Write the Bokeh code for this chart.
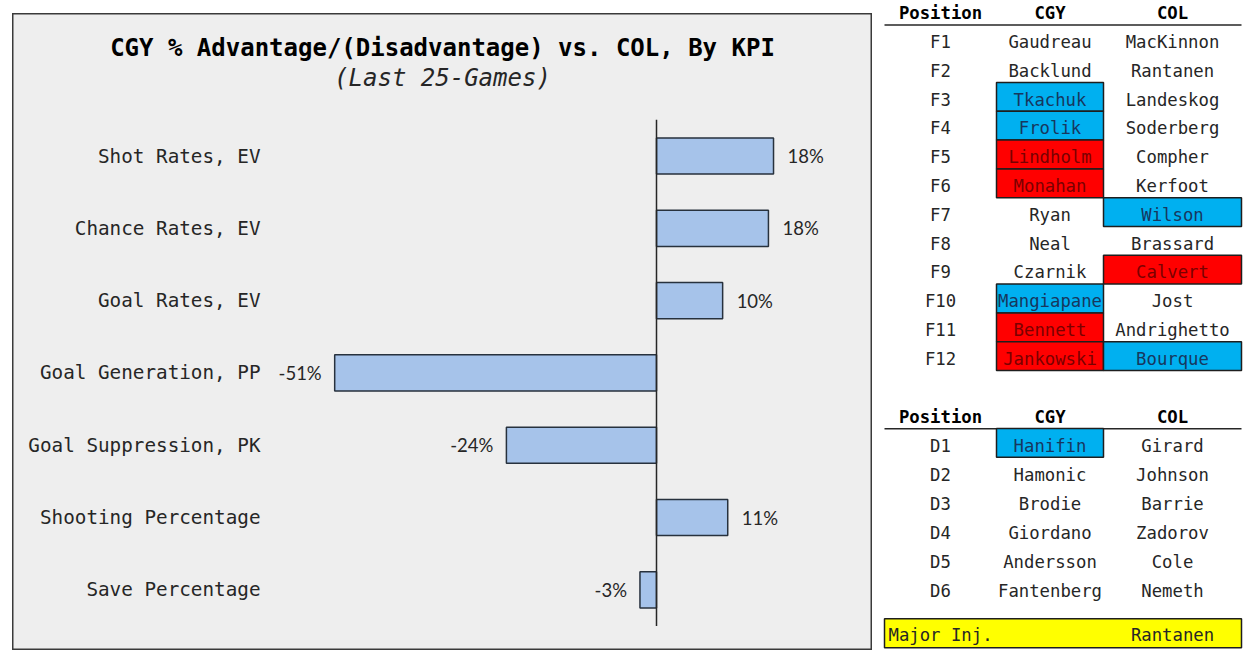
from bokeh.plotting import figure
from bokeh.layouts import row
from bokeh.models import Range1d, ColumnDataSource
from bokeh.core.properties import value
from bokeh.embed import file_html
from bokeh.resources import INLINE

# ---------------- data ----------------
title_text = "CGY % Advantage/(Disadvantage) vs. COL, By KPI"
subtitle_text = "(Last 25-Games)"
kpis = ["Shot Rates, EV", "Chance Rates, EV", "Goal Rates, EV",
        "Goal Generation, PP", "Goal Suppression, PK",
        "Shooting Percentage", "Save Percentage"]
advantage = [18.4, 17.6, 10.4, -50.6, -23.6, 11.2, -2.6]

table_header = ["Position", "CGY", "COL"]
positions_f = ["F1", "F2", "F3", "F4", "F5", "F6", "F7", "F8", "F9", "F10", "F11", "F12"]
cgy_f = ["Gaudreau", "Backlund", "Tkachuk", "Frolik", "Lindholm", "Monahan",
         "Ryan", "Neal", "Czarnik", "Mangiapane", "Bennett", "Jankowski"]
col_f = ["MacKinnon", "Rantanen", "Landeskog", "Soderberg", "Compher", "Kerfoot",
         "Wilson", "Brassard", "Calvert", "Jost", "Andrighetto", "Bourque"]
cgy_f_flag = ["", "", "good", "good", "bad", "bad", "", "", "", "good", "bad", "bad"]
col_f_flag = ["", "", "", "", "", "", "good", "", "bad", "", "", "good"]

positions_d = ["D1", "D2", "D3", "D4", "D5", "D6"]
cgy_d = ["Hanifin", "Hamonic", "Brodie", "Giordano", "Andersson", "Fantenberg"]
col_d = ["Girard", "Johnson", "Barrie", "Zadorov", "Cole", "Nemeth"]
cgy_d_flag = ["good", "", "", "", "", ""]
col_d_flag = ["", "", "", "", "", ""]

injury_label = "Major Inj."
injury_col = "Rantanen"

# ---------------- styles ----------------
MONO = value("DejaVu Sans Mono")
SANS = value("Lato")
TXT = "#262626"
FILL = {"good": "#00b0f0", "bad": "#ff0000"}
TFILL = {"good": "#17375e", "bad": "#7a0000", "": TXT}

# ---------------- left chart ----------------
W1, H1 = 860, 637
PX = 6.36          # pixels per percent
ZERO = 644         # zero line position in px from left edge
STEP = 72.3        # px per category
FIRST = 142.5      # px from top to first category centre

p = figure(width=W1, height=H1, output_backend="svg", toolbar_location=None,
           x_range=Range1d(-ZERO / PX, (W1 - ZERO) / PX),
           y_range=Range1d((H1 - FIRST) / STEP, -FIRST / STEP),
           x_axis_type=None, y_axis_type=None, min_border=0,
           background_fill_color="#eeeeee", border_fill_color="#eeeeee",
           outline_line_color="#3a3a3a", outline_line_width=2)
p.xgrid.visible = False
p.ygrid.visible = False
p.margin = (13, 0, 0, 12)

idx = list(range(len(kpis)))
labels = [f"{round(v)}%" for v in advantage]
src = ColumnDataSource(dict(y=idx, v=advantage, name=kpis, lab=labels))

p.hbar(y="y", left=0, right="v", height=0.5, source=src,
       fill_color="#a6c3ea", line_color="#27313d", line_width=1.5)
p.segment(x0=[0], y0=[-0.5], x1=[0], y1=[len(kpis) - 0.5],
          line_color=TXT, line_width=1.5)

pos = ColumnDataSource(dict(y=[i for i, v in zip(idx, advantage) if v >= 0],
                            v=[v for v in advantage if v >= 0],
                            lab=[l for l, v in zip(labels, advantage) if v >= 0]))
neg = ColumnDataSource(dict(y=[i for i, v in zip(idx, advantage) if v < 0],
                            v=[v for v in advantage if v < 0],
                            lab=[l for l, v in zip(labels, advantage) if v < 0]))
p.text(x="v", y="y", text="lab", source=pos, x_offset=14, text_align="left",
       text_baseline="middle", text_font=SANS, text_font_size="18.5px", text_color=TXT)
p.text(x="v", y="y", text="lab", source=neg, x_offset=-13, text_align="right",
       text_baseline="middle", text_font=SANS, text_font_size="18.5px", text_color=TXT)

cat_x = -ZERO / PX + 248 / PX
p.text(x=cat_x, y="y", text="name", source=src, text_align="right",
       text_baseline="middle", text_font=MONO, text_font_size="19.3px", text_color=TXT)

mid_x = -ZERO / PX + (W1 / 2) / PX
p.text(x=[mid_x], y=[(34 - FIRST) / STEP], text=[title_text], text_align="center",
       text_baseline="middle", text_font=MONO, text_font_size="24px",
       text_font_style="bold", text_color="#000000")
p.text(x=[mid_x], y=[(64 - FIRST) / STEP], text=[subtitle_text], text_align="center",
       text_baseline="middle", text_font=MONO, text_font_size="24px",
       text_font_style="italic", text_color=TXT)

# ---------------- right table ----------------
X0, X1, Y0, Y1 = 872, 1250, 0, 660
t = figure(width=X1 - X0, height=Y1 - Y0, output_backend="svg", toolbar_location=None,
           x_range=Range1d(X0, X1), y_range=Range1d(Y1, Y0),
           x_axis_type=None, y_axis_type=None, min_border=0,
           background_fill_color="white", border_fill_color="white",
           outline_line_color=None)
t.xgrid.visible = False
t.ygrid.visible = False

COLX = [940, 1049.5, 1172]
CELL = [(996, 1103), (1103, 1241)]
LEFT, RIGHT = 884, 1241
ROWH = 28.8


def block(head_y, line_y, row0, step, posn, cgy, col, fcgy, fcol):
    t.text(x=COLX, y=[head_y] * 3, text=table_header, text_align="center",
           text_baseline="middle", text_font=MONO, text_font_size="17.3px",
           text_font_style="bold", text_color="#000000")
    t.segment(x0=[LEFT], y0=[line_y], x1=[RIGHT], y1=[line_y],
              line_color=TXT, line_width=1.5)
    ys = [row0 + step * i for i in range(len(posn))]
    for c, (names, flags) in enumerate([(cgy, fcgy), (col, fcol)]):
        hy = [y for y, f in zip(ys, flags) if f]
        hf = [FILL[f] for f in flags if f]
        if hy:
            t.quad(left=CELL[c][0], right=CELL[c][1],
                   top=[y - 2.7 - ROWH / 2 for y in hy],
                   bottom=[y - 2.7 + ROWH / 2 for y in hy],
                   fill_color=hf, line_color="#1e1e1e", line_width=1.5)
        t.text(x=COLX[c + 1], y=ys, text=names,
               text_color=[TFILL[f] for f in flags], text_align="center",
               text_baseline="middle", text_font=MONO, text_font_size="17.3px")
    t.text(x=COLX[0], y=ys, text=posn, text_color=TXT, text_align="center",
           text_baseline="middle", text_font=MONO, text_font_size="17.3px")


block(12.5, 24.5, 41.5, ROWH, positions_f, cgy_f, col_f, cgy_f_flag, col_f_flag)
block(416.5, 428.3, 445, 29, positions_d, cgy_d, col_d, cgy_d_flag, col_d_flag)

t.quad(left=[LEFT], right=[RIGHT], top=[618.3], bottom=[647.3],
       fill_color="#ffff00", line_color="#1e1e1e", line_width=1.5)
t.text(x=[888], y=[634.5], text=[injury_label], text_align="left",
       text_baseline="middle", text_font=MONO, text_font_size="17.3px", text_color=TXT)
t.text(x=[COLX[2]], y=[634.5], text=[injury_col], text_align="center",
       text_baseline="middle", text_font=MONO, text_font_size="17.3px", text_color=TXT)

layout = row(p, t)
open("out.html", "w").write(file_html(layout, INLINE))
